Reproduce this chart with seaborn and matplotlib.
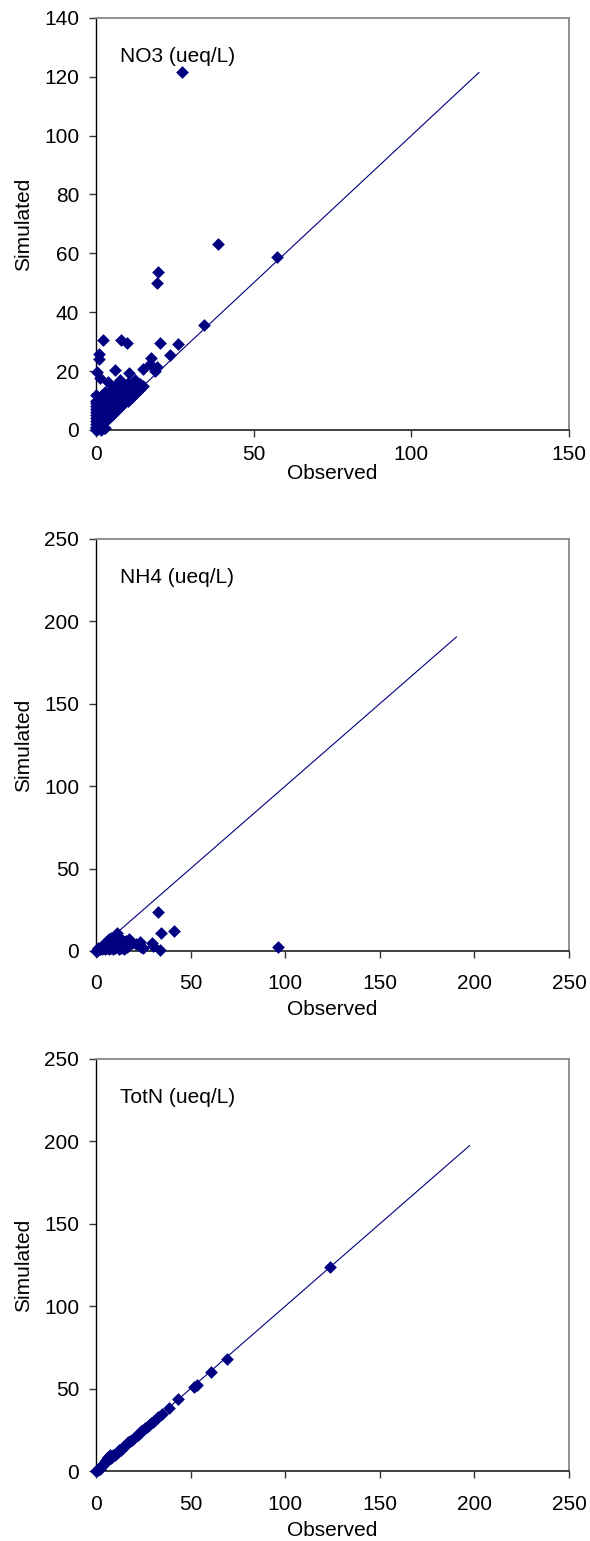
import numpy as np
import pandas as pd
import matplotlib
matplotlib.use('Agg')
import matplotlib.pyplot as plt
import seaborn as sns

# --- data (observed, simulated) ---
no3_obs = [27.2, 38.6, 57.3, 19.7, 19.2, 34.2, 2.2, 7.8, 9.7, 20.2, 25.9, 1.0, 1.0,
           23.6, 17.5, 17.0, 15.0, 19.3, 18.7, 0.3, 1.3, 6.1, 10.5, 3.9, 7.6, 12.4, 13.4,
           0.0, 0.0, 0.0, 0.0, 0.0, 0.0, 0.0, 0.0, 0.0, 0.0, 0.0, 0.0, 0.0,
           0.5, 0.5, 0.5, 0.5, 0.5, 0.5, 0.5,
           1.0, 1.0, 1.0, 1.0, 1.0, 1.0, 1.0, 1.0,
           2.0, 2.0, 2.0, 2.0, 2.0, 2.0, 2.0,
           3.0, 3.0, 3.0, 3.0, 3.0, 3.0, 3.0,
           4.0, 4.0, 4.0, 4.0, 4.0, 4.0,
           5.0, 5.0, 5.0, 5.0, 5.0, 5.0,
           6.0, 6.0, 6.0, 6.0, 6.0, 6.0,
           7.0, 7.0, 7.0, 7.0, 7.0,
           8.0, 8.0, 8.0, 8.0, 8.0, 8.0,
           9.0, 9.0, 9.0, 9.0,
           10.0, 10.0, 10.0, 10.0, 10.0,
           11.0, 11.0, 11.0, 12.0, 12.0, 12.0, 13.0, 13.0, 14.0, 14.0, 15.0,
           1.5, 2.5, 3.0, 1.8]
no3_sim = [121.5, 63.3, 58.8, 53.6, 49.8, 35.7, 30.5, 30.6, 29.5, 29.6, 29.2, 25.8, 24.1,
           25.4, 24.6, 22.4, 20.7, 21.5, 19.9, 19.6, 17.8, 20.4, 19.4, 16.2, 17.0, 17.0, 15.3,
           0.0, 0.5, 1.0, 2.0, 3.0, 4.0, 5.0, 6.0, 7.0, 8.0, 9.0, 10.0, 12.0,
           0.3, 1.5, 2.5, 3.5, 5.0, 7.0, 8.0,
           1.0, 2.0, 3.0, 4.5, 6.0, 8.0, 10.0, 11.0,
           2.0, 3.0, 4.0, 6.0, 8.0, 9.0, 12.0,
           3.0, 4.0, 5.0, 7.0, 9.0, 11.0, 13.0,
           4.0, 5.0, 6.0, 8.0, 10.0, 12.0,
           5.0, 6.0, 7.5, 9.0, 11.0, 14.0,
           6.0, 7.0, 8.0, 10.0, 12.0, 15.0,
           7.0, 8.0, 9.5, 11.0, 13.0,
           8.0, 9.0, 10.0, 12.0, 14.0, 16.0,
           9.0, 10.0, 11.5, 13.0,
           10.0, 11.0, 12.0, 14.0, 16.0,
           11.0, 12.0, 13.5, 12.0, 13.0, 14.5, 13.0, 14.0, 14.0, 15.5, 15.0,
           0.0, 0.5, 0.8, 1.2]
no3_line_end = 121.5

nh4_obs = [0.0, 1.0, 2.0, 2.0, 3.0, 3.0, 4.0, 4.0, 5.0, 5.0, 5.0, 6.0, 6.0, 6.0,
           7.0, 7.0, 7.0, 7.0, 8.0, 8.0, 8.0, 8.0, 9.0, 9.0, 9.0, 9.0,
           10.0, 10.0, 10.0, 10.0, 11.0, 11.0, 12.0, 12.0, 13.0, 13.0, 14.0, 15.0,
           16.0, 16.2, 17.6, 19.0, 21.3, 23.0, 24.0, 25.0, 29.4, 30.0, 33.8,
           32.9, 34.4, 41.0, 96.4, 1.0, 0.5, 3.5, 11.5, 14.5]
nh4_sim = [0.0, 0.5, 1.0, 2.0, 1.0, 3.0, 2.0, 4.0, 1.0, 3.0, 5.0, 2.0, 4.0, 6.0,
           1.0, 3.0, 5.0, 7.0, 2.0, 4.0, 6.0, 8.0, 1.0, 3.0, 5.0, 7.0,
           2.0, 4.0, 6.0, 9.0, 10.8, 3.0, 1.0, 5.0, 2.0, 7.0, 4.0, 1.0,
           6.0, 2.5, 7.5, 5.0, 4.5, 5.5, 2.5, 1.6, 4.7, 3.0, 0.6,
           23.6, 10.8, 12.4, 2.5, 1.5, 0.2, 1.5, 8.0, 6.0]
nh4_line_end = 190.6

totn_obs = [123.5, 69.0, 60.8, 53.2, 52.0, 43.4, 38.6, 34.9, 33.0, 32.0, 31.0, 30.0,
            29.0, 28.0, 27.0, 26.0, 25.0, 24.0, 23.0, 22.0, 21.0, 20.0, 19.0, 18.0,
            17.0, 16.0, 15.0, 14.0, 13.0, 12.0, 11.0, 10.0, 9.0, 8.0, 7.0, 6.0, 5.0,
            4.0, 3.0, 2.0, 1.0, 0.5, 0.0, 1.0, 2.0, 6.5, 7.5, 5.5]
totn_sim = [124.0, 68.0, 60.3, 52.2, 51.0, 43.7, 38.4, 34.4, 33.0, 32.0, 31.0, 30.0,
            29.0, 28.0, 27.0, 26.0, 25.0, 24.0, 23.0, 22.0, 21.0, 20.0, 19.0, 18.0,
            17.5, 16.0, 15.0, 14.0, 13.0, 12.5, 11.0, 10.0, 9.5, 8.0, 7.5, 6.5, 5.5,
            4.5, 3.0, 2.5, 1.5, 0.5, 0.0, 0.5, 1.5, 8.5, 9.5, 7.0]
totn_line_end = 197.5

# label, obs, sim, line end, x max, y max, y step, x tick pad, x label pad
panels = [
    ('NO3 (ueq/L)', no3_obs, no3_sim, no3_line_end, 150, 140, 20, 6, 0),
    ('NH4 (ueq/L)', nh4_obs, nh4_sim, nh4_line_end, 250, 250, 50, 11.5, 5),
    ('TotN (ueq/L)', totn_obs, totn_sim, totn_line_end, 250, 250, 50, 12, 5),
]

sns.set_style('ticks')
plt.rcParams['font.family'] = ['Liberation Sans', 'DejaVu Sans']
plt.rcParams['text.color'] = 'black'
plt.rcParams['axes.labelcolor'] = 'black'
plt.rcParams['xtick.labelcolor'] = 'black'
plt.rcParams['ytick.labelcolor'] = 'black'

navy = '#000080'
fs = 15
fig = plt.figure(figsize=(5.9, 15.41), dpi=100)
bottoms = [0.7210, 0.3829, 0.0454]

for (label, obs, sim, line_end, xmax, ymax, ystep, xpad, xlpad), b in zip(panels, bottoms):
    ax = fig.add_axes([0.1627, b, 0.8017, 0.2674])
    df = pd.DataFrame({'Observed': obs, 'Simulated': sim})
    line = pd.DataFrame({'x': [0, line_end], 'y': [0, line_end]})
    sns.lineplot(data=line, x='x', y='y', ax=ax, color=navy, lw=0.8)
    sns.scatterplot(data=df, x='Observed', y='Simulated', ax=ax, marker='D',
                    color=navy, edgecolor=navy, linewidth=0, s=42, zorder=3)
    ax.set_xlim(0, xmax)
    ax.set_ylim(0, ymax)
    ax.set_xticks(np.arange(0, xmax + 1, 50))
    ax.set_yticks(np.arange(0, ymax + 1, ystep))
    ax.tick_params(axis='both', labelsize=fs, direction='out', length=5,
                   width=1, color='#333333')
    ax.tick_params(axis='y', pad=7)
    ax.tick_params(axis='x', pad=xpad)
    ax.set_xlabel('Observed', fontsize=fs, labelpad=xlpad)
    ax.set_ylabel('Simulated', fontsize=fs, labelpad=8)
    ax.spines['left'].set_color('black')
    ax.spines['left'].set_linewidth(1.0)
    ax.spines['bottom'].set_color('#333333')
    ax.spines['bottom'].set_linewidth(1.3)
    for s in ['top', 'right']:
        ax.spines[s].set_visible(True)
        ax.spines[s].set_color('#888888')
        ax.spines[s].set_linewidth(1.3)
    ax.text(0.051, 0.906, label, transform=ax.transAxes, fontsize=fs,
            va='center', ha='left')
    for coll in ax.collections:
        coll.set_clip_on(False)

fig.savefig('out.png', dpi=100, facecolor='white')
